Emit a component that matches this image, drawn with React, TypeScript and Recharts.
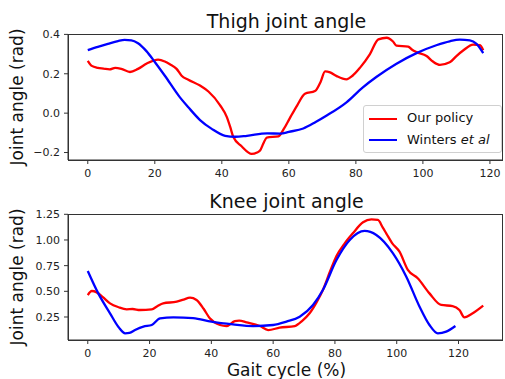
import { LineChart, Line, XAxis, YAxis } from "recharts";

const FONT = "DejaVu Sans, sans-serif";
const RED = "#ff0000";
const BLUE = "#0000ff";
const SPINE = "#333333";

// thigh joint angle (rad) over gait cycle (%)
const thighPolicyCycle = [
  0, 1.2, 3, 4.7, 6.5, 8.2, 10, 12.6, 15, 17.6, 21, 23, 24.5, 26.5, 28, 30,
  33.5, 36, 39.5, 41.5, 42.5, 43.4, 45.9, 48.9, 50.5, 51.4, 52.5, 53.4, 56.9,
  58.5, 60.3, 62.5, 64.8, 67.8, 69.5, 70.8, 72.3, 74.3, 77.2, 79, 81.2, 84.2,
  86.7, 89.2, 91, 92.1, 95.6, 96.8, 98.1, 101.1, 103, 105.1, 108, 110, 112,
  115, 117, 118,
];
const thighPolicy = [
  0.266, 0.24, 0.23, 0.226, 0.222, 0.23, 0.225, 0.209, 0.225, 0.252, 0.272,
  0.262, 0.248, 0.225, 0.19, 0.17, 0.14, 0.11, 0.04, -0.02, -0.07, -0.12,
  -0.168, -0.207, -0.2, -0.19, -0.15, -0.124, -0.118, -0.08, -0.025, 0.04,
  0.098, 0.112, 0.16, 0.212, 0.207, 0.188, 0.172, 0.19, 0.23, 0.3, 0.375,
  0.383, 0.365, 0.343, 0.338, 0.322, 0.31, 0.29, 0.262, 0.245, 0.258, 0.29,
  0.318, 0.348, 0.345, 0.32,
];
const thighWintersCycle = [
  0, 3, 6, 9, 11, 13, 15, 17.5, 20, 23, 27.5, 30, 33.5, 37, 41, 44, 47.5, 53.5,
  57.5, 60, 64.3, 68, 71.3, 77.2, 82, 86.2, 92, 98.1, 104, 108, 111, 114, 116,
  118,
];
const thighWinters = [
  0.32, 0.337, 0.352, 0.366, 0.372, 0.37, 0.355, 0.315, 0.26, 0.19, 0.08, 0.03,
  -0.035, -0.08, -0.115, -0.12, -0.115, -0.103, -0.104, -0.095, -0.078, -0.045,
  -0.012, 0.055, 0.13, 0.185, 0.25, 0.305, 0.345, 0.365, 0.373, 0.37, 0.352,
  0.305,
];

// knee joint angle (rad) over gait cycle (%)
const kneePolicyCycle = [
  0, 1.3, 2.9, 5, 7.2, 10, 12.6, 14.5, 16.9, 20.7, 22.5, 24.4, 28.8, 31, 33.1,
  35.2, 37.5, 39.5, 42.8, 44.9, 47.6, 49, 51.4, 55.7, 58.4, 62.1, 67, 69.5,
  71.8, 74, 76.1, 78.5, 80.5, 83, 85.8, 89.1, 91.8, 93.9, 95.5, 96.6, 98.5,
  100.9, 103.6, 106.8, 110.6, 114.4, 118.1, 120.3, 121.9, 124.6, 128,
];
const kneePolicy = [
  0.464, 0.503, 0.49, 0.44, 0.383, 0.345, 0.325, 0.328, 0.318, 0.325, 0.355,
  0.383, 0.399, 0.42, 0.438, 0.416, 0.33, 0.237, 0.172, 0.162, 0.21, 0.215,
  0.198, 0.162, 0.123, 0.146, 0.162, 0.215, 0.286, 0.39, 0.513, 0.7, 0.844,
  0.96, 1.065, 1.172, 1.2, 1.195, 1.12, 1.065, 0.97, 0.886, 0.708, 0.627, 0.48,
  0.367, 0.357, 0.318, 0.247, 0.286, 0.36,
];
const kneeWintersCycle = [
  0, 3.4, 7.2, 10, 12.1, 13.5, 15.3, 18, 20.7, 23.4, 27.7, 34.1, 40, 47, 53.5,
  60, 64.3, 68.6, 72.9, 76.1, 80.5, 84.8, 89.6, 93.4, 98.8, 103.1, 107.4, 110.6,
  113.3, 116, 119,
];
const kneeWinters = [
  0.698, 0.48, 0.286, 0.15, 0.091, 0.095, 0.123, 0.156, 0.172, 0.237, 0.247,
  0.24, 0.205, 0.178, 0.162, 0.172, 0.205, 0.253, 0.367, 0.513, 0.805, 1.0,
  1.088, 1.049, 0.87, 0.643, 0.35, 0.172, 0.091, 0.107, 0.162,
];

const cycleTicks = [0, 20, 40, 60, 80, 100, 120];
const thighTicks = [-0.2, 0, 0.2, 0.4];
const kneeTicks = [0.25, 0.5, 0.75, 1.0, 1.25];

const rows = (xs: number[], ys: number[]) => xs.map((x, i) => ({ x, y: ys[i] }));

const tickStyle = { fontSize: 11, fontFamily: FONT, fill: "#222" };

const legendItems = [
  { color: RED, label: <>Our policy</> },
  {
    color: BLUE,
    label: (
      <>
        Winters <i>et al</i>
      </>
    ),
  },
];

const fmtThigh = (v: number) => (v < 0 ? "\u2212" + Math.abs(v).toFixed(1) : v.toFixed(1));

// plot rectangles, used for the box frame around each panel
const thighBox = { x: 68, y: 34, w: 435, h: 126 };
const kneeBox = { x: 68, y: 214, w: 435, h: 126 };

export default function App() {
  return (
    <div style={{ position: "absolute", left: 0, top: 0, width: 505, height: 379, background: "#fff" }}>
      <div style={{ position: "absolute", left: 0, top: 0 }}>
        <LineChart width={505} height={190} margin={{ top: 34, right: 2, left: 0, bottom: 0 }}>
          <XAxis
            type="number"
            dataKey="x"
            domain={[-5.9, 123.9]}
            ticks={cycleTicks}
            height={30}
            tick={tickStyle}
            tickSize={4}
            tickMargin={5}
            stroke={SPINE}
            allowDataOverflow
          />
          <YAxis
            type="number"
            domain={[-0.238, 0.402]}
            ticks={thighTicks}
            width={68}
            tick={tickStyle}
            tickFormatter={fmtThigh}
            tickSize={4}
            tickMargin={4}
            stroke={SPINE}
            allowDataOverflow
          />
          <Line
            data={rows(thighPolicyCycle, thighPolicy)}
            dataKey="y"
            name="Our policy"
            type="monotone"
            stroke={RED}
            strokeWidth={2.3}
            dot={false}
            isAnimationActive={false}
          />
          <Line
            data={rows(thighWintersCycle, thighWinters)}
            dataKey="y"
            name="Winters et al"
            type="monotone"
            stroke={BLUE}
            strokeWidth={2.3}
            dot={false}
            isAnimationActive={false}
          />
        </LineChart>
      </div>

      <div style={{ position: "absolute", left: 0, top: 190 }}>
        <LineChart width={505} height={189} margin={{ top: 24, right: 2, left: 0, bottom: 0 }}>
          <XAxis
            type="number"
            dataKey="x"
            domain={[-6.4, 134.4]}
            ticks={cycleTicks}
            height={39}
            tick={tickStyle}
            tickSize={4}
            tickMargin={5}
            stroke={SPINE}
            allowDataOverflow
          />
          <YAxis
            type="number"
            domain={[0.026, 1.253]}
            ticks={kneeTicks}
            width={68}
            tick={tickStyle}
            tickFormatter={(v: number) => v.toFixed(2)}
            tickSize={4}
            tickMargin={4}
            stroke={SPINE}
            allowDataOverflow
          />
          <Line
            data={rows(kneePolicyCycle, kneePolicy)}
            dataKey="y"
            name="Our policy"
            type="monotone"
            stroke={RED}
            strokeWidth={2.3}
            dot={false}
            isAnimationActive={false}
          />
          <Line
            data={rows(kneeWintersCycle, kneeWinters)}
            dataKey="y"
            name="Winters et al"
            type="monotone"
            stroke={BLUE}
            strokeWidth={2.3}
            dot={false}
            isAnimationActive={false}
          />
        </LineChart>
      </div>

      {/* frames, titles and axis labels */}
      <svg
        width={505}
        height={379}
        style={{ position: "absolute", left: 0, top: 0, pointerEvents: "none" }}
        fontFamily={FONT}
        fill="#111"
      >
        {[thighBox, kneeBox].map((b, i) => (
          <rect key={i} x={b.x + 0.5} y={b.y + 0.5} width={b.w - 1} height={b.h} fill="none" stroke={SPINE} strokeWidth={1} />
        ))}
        <text x={286.5} y={27.5} fontSize={19} textAnchor="middle">
          Thigh joint angle
        </text>
        <text x={286.5} y={207.5} fontSize={19} textAnchor="middle">
          Knee joint angle
        </text>
        <text x={286.5} y={375.5} fontSize={17} textAnchor="middle">
          Gait cycle (%)
        </text>
        <text transform="translate(23,97) rotate(-90)" fontSize={17} textAnchor="middle">
          Joint angle (rad)
        </text>
        <text transform="translate(23,277) rotate(-90)" fontSize={17} textAnchor="middle">
          Joint angle (rad)
        </text>
      </svg>

      {/* legend of the thigh panel */}
      <div
        style={{
          position: "absolute",
          left: 363,
          top: 105,
          width: 137,
          height: 46,
          border: "1px solid #d0d0d0",
          borderRadius: 3,
          background: "rgba(255,255,255,0.8)",
          fontFamily: FONT,
          fontSize: 13,
          color: "#111",
        }}
      >
        {legendItems.map((item, i) => (
          <div key={i} style={{ position: "absolute", left: 0, top: 3 + i * 21.6, height: 20, width: 137 }}>
            <span
              style={{
                position: "absolute",
                left: 5,
                top: 8.5,
                width: 28,
                height: 2.4,
                background: item.color,
              }}
            />
            <span style={{ position: "absolute", left: 43, top: 1, whiteSpace: "nowrap", lineHeight: "16px" }}>
              {item.label}
            </span>
          </div>
        ))}
      </div>
    </div>
  );
}
